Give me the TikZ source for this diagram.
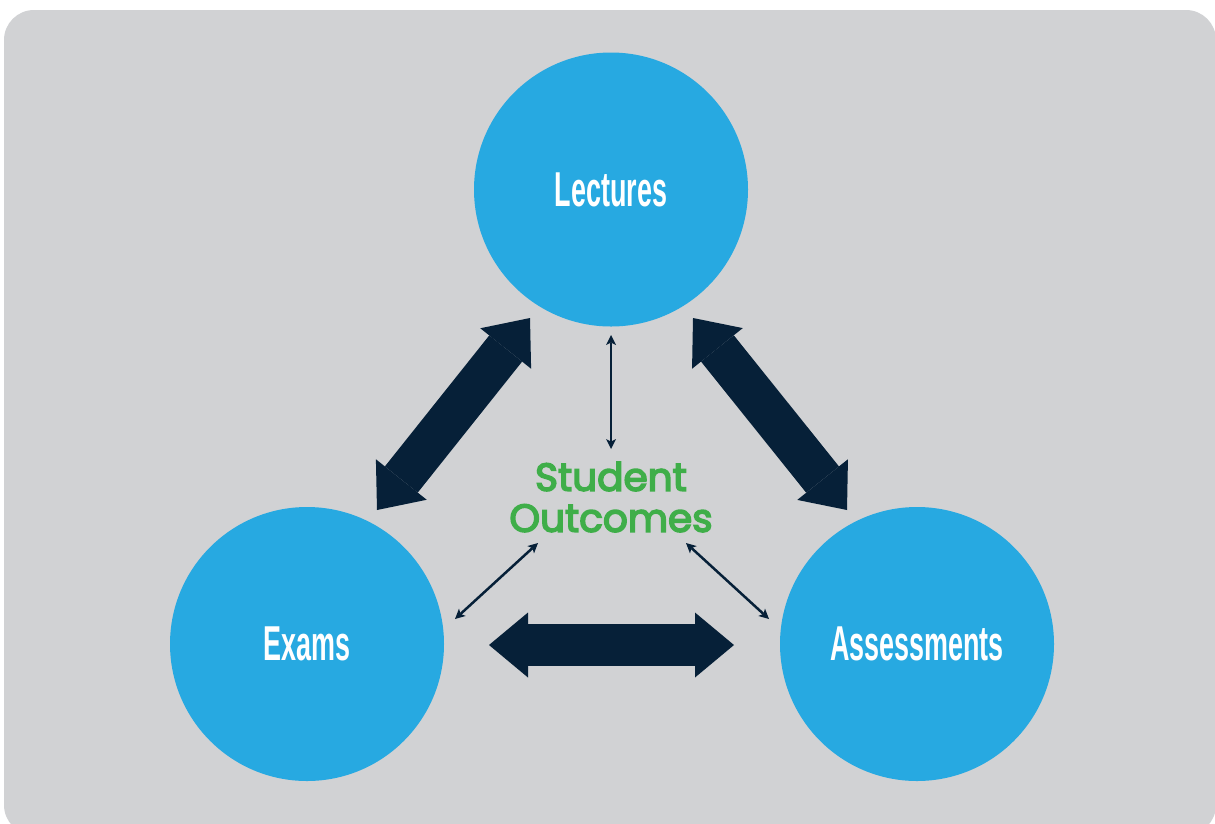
\documentclass[tikz,border=0pt]{standalone}
\usepackage{fontspec}
\setmainfont{Liberation Sans}
\newfontfamily\circlabelfont[FakeStretch=0.55]{Liberation Sans}
\newfontfamily\outfont[FakeBold=4]{Poppins}
\usetikzlibrary{arrows.meta}
\definecolor{bgray}{HTML}{D1D2D4}
\definecolor{cblue}{HTML}{27A9E1}
\definecolor{navy}{HTML}{062038}
\definecolor{sgreen}{HTML}{3FAE49}
\tikzset{
  circ/.style={circle, fill=cblue, minimum size=274pt, inner sep=0pt, text=white,
    font=\circlabelfont\bfseries\fontsize{49}{52}\selectfont},
  outc/.style={text=sgreen, align=center, inner sep=0pt,
    font=\outfont\fontsize{39}{41}\selectfont},
  bigarrow/.style={draw=navy, line width=42pt,
    {Triangle[length=39pt,width=65pt,line width=0pt]}-{Triangle[length=39pt,width=65pt,line width=0pt]}},
  smallarrow/.style={draw=navy, line width=2.5pt,
    {Stealth[length=10pt,width=10pt,inset=2.5pt,line width=0pt]}-{Stealth[length=10pt,width=10pt,inset=2.5pt,line width=0pt]}}
}
\begin{document}
\begin{tikzpicture}[x=1pt,y=-1pt]
\useasboundingbox (0,0) rectangle (1215,823);
\fill[bgray, rounded corners=30pt] (4,10) rectangle (1216,835);
\node[circ] (lec) at (611,189.5) {Lectures};
\node[circ] (exa) at (307,644) {Exams};
\node[circ] (ass) at (917,644) {Assessments};
\node[outc] (out) at (611,497) {Student\\Outcomes};
\coordinate (l1) at (530,318);
\coordinate (l2) at (377,510);
\coordinate (r1) at (693,318);
\coordinate (r2) at (847,510);
\coordinate (h1) at (489,645);
\coordinate (h2) at (734,645);
\coordinate (v1) at (611,335);
\coordinate (v2) at (611,449);
\coordinate (a1) at (538,543);
\coordinate (a2) at (455,619);
\coordinate (b1) at (686,543);
\coordinate (b2) at (769,619);
\draw[bigarrow] (l1) -- (l2);
\draw[bigarrow] (r1) -- (r2);
\draw[bigarrow] (h1) -- (h2);
\draw[smallarrow] (v1) -- (v2);
\draw[smallarrow] (a1) -- (a2);
\draw[smallarrow] (b1) -- (b2);
\end{tikzpicture}
\end{document}
